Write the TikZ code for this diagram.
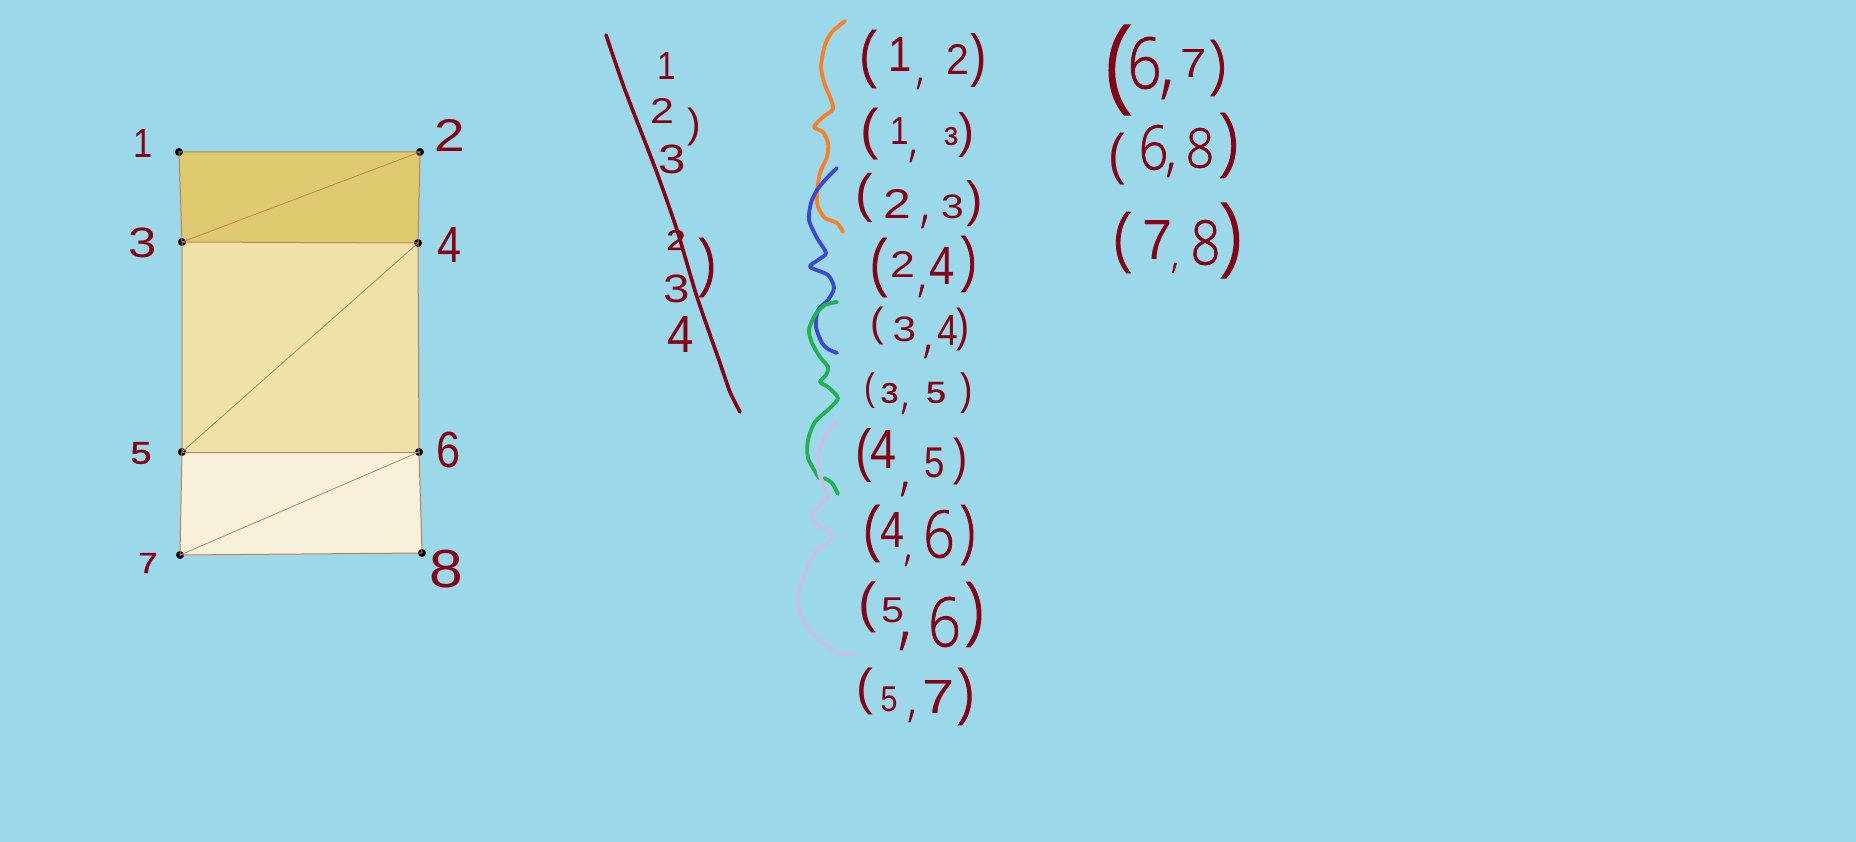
\documentclass[tikz,border=0pt]{standalone}
\usepackage{fontspec}
\setmainfont{Liberation Sans}
\newfontfamily\lightfam[UprightFont=* Light,FakeBold=1.2]{Open Sans}
\newfontfamily\smallfam[FakeBold=1.2]{Liberation Sans}
\definecolor{bgc}{HTML}{9AD8EA}
\definecolor{ink}{HTML}{880015}
\definecolor{edgec}{HTML}{C08058}
\definecolor{toprow}{HTML}{DFCB6F}
\definecolor{midrow}{HTML}{EEE2AA}
\definecolor{lowrow}{HTML}{F8F1DA}
\definecolor{orangec}{HTML}{FF7F27}
\definecolor{bluec}{HTML}{3F48CC}
\definecolor{greenc}{HTML}{22B14C}
\definecolor{lavc}{HTML}{C8BFE7}
\newdimen\glpen \newdimen\glox \newdimen\glby \newdimen\glk
\newbox\glbox
% pad, x1, x2, y1, y2, char  (font chosen in \glfont, width cap in \glcap)
\newcommand\glg[6]{%
  \setbox\glbox=\hbox{\glfont #6}%
  \pgfmathsetmacro\glys{(#5-#4)/(\the\ht\glbox+\the\dp\glbox)}%
  \pgfmathsetmacro\glwt{(#3-#2)*(1+2*#1)}%
  \pgfmathsetmacro\glxs{min(max(\glwt/\the\wd\glbox,.85*\glys),\glcap*\glys)}%
  \setbox\glbox=\hbox{\scalebox{\glxs}[\glys]{\box\glbox}}%
  \glk=\dimexpr (#2pt+#3pt)/2-\wd\glbox/2-\glox-\glpen\relax
  \kern\glk
  \advance\glpen by \dimexpr\glk+\wd\glbox\relax
  \raise\dimexpr\glby-#5pt+\dp\glbox\relax\box\glbox
}
\newcommand\dg[5]{%
  \pgfmathsetmacro\glh{#5-#4}%
  \pgfmathparse{\glh<24?1:(\glh<40?2:3)}%
  \ifcase\pgfmathresult\or\let\glfont\smallfam\or\let\glfont\rmfamily\or\let\glfont\lightfam\fi
  \def\glcap{1.2}%
  \glg{.1}{#2}{#3}{#4}{#5}{#1}}
\newcommand\pfont[2]{%
  \pgfmathsetmacro\glh{#2-#1}%
  \pgfmathparse{\glh<33?1:(\glh<55?2:3)}%
  \ifcase\pgfmathresult\or\let\glfont\smallfam\or\let\glfont\rmfamily\or\let\glfont\lightfam\fi
  \def\glcap{1}}
\newcommand\lp[4]{\pfont{#3}{#4}\glg{.33}{#1}{#2}{#3}{#4}{(}}
\newcommand\rp[4]{\pfont{#3}{#4}\glg{.33}{#1}{#2}{#3}{#4}{)}}
\newcommand\cm[3]{\let\glfont\lightfam\def\glcap{.9}\glg{1}{\the\numexpr#1-3\relax}{\the\numexpr#1+3\relax}{#2}{#3}{,}}
\newcommand\txt[4]{\node[hand] (#1) at (#2,#3) {\glpen=0pt\glox=#2pt\glby=#3pt #4};}
\tikzset{
  hand/.style={inner sep=0pt,outer sep=0pt,anchor=base west,text=ink,font=\fontsize{44}{44}\selectfont},
  cell/.style={draw=edgec,line width=1pt},
  diag/.style={draw=edgec,line width=.8pt},
  vertexdot/.style={circle,fill=black,inner sep=0pt,minimum size=8pt},
  wave/.style={line width=3.8pt,line cap=round,line join=round},
  inkline/.style={draw=ink,line width=3.6pt,line cap=round,line join=round}
}
\begin{document}
\begin{tikzpicture}[x=1pt,y=-1pt]
\fill[bgc] (0,0) rectangle (1856,842);
\useasboundingbox (0,0) rectangle (1856,842);
\coordinate (c1) at (179,152);
\coordinate (c2) at (420,152);
\coordinate (c3) at (182,242);
\coordinate (c4) at (418,243);
\coordinate (c5) at (182,452);
\coordinate (c6) at (419,452);
\coordinate (c7) at (180,555);
\coordinate (c8) at (422,553);
% cells
\fill[toprow] (c1) -- (c2) -- (c4) -- (c3) -- cycle;
\fill[midrow] (c3) -- (c4) -- (c6) -- (c5) -- cycle;
\fill[lowrow] (c5) -- (c6) -- (c8) -- (c7) -- cycle;
% vertices
\node[vertexdot] (v1) at (c1) {};
\node[vertexdot] (v2) at (c2) {};
\node[vertexdot] (v3) at (c3) {};
\node[vertexdot] (v4) at (c4) {};
\node[vertexdot] (v5) at (c5) {};
\node[vertexdot] (v6) at (c6) {};
\node[vertexdot] (v7) at (c7) {};
\node[vertexdot] (v8) at (c8) {};
% edges
\path[cell] (v1.center) -- (v2.center) -- (v4.center) -- (v6.center) -- (v8.center) -- (v7.center) -- (v5.center) -- (v3.center) -- cycle;
\path[cell] (v3.center) -- (v4.center);
\path[cell] (v5.center) -- (v6.center);
\path[diag] (v3.center) -- (v2.center);
\path[diag] (v5.center) -- (v4.center);
\path[diag] (v7.center) -- (v6.center);
% corner labels
\txt{l1}{135}{158}{\dg{1}{136}{150}{130}{158}}
\txt{l2}{435}{152}{\dg{2}{435}{465}{120}{152}}
\txt{l3}{127}{258}{\dg{3}{127}{158}{228}{258}}
\txt{l4}{440}{263}{\dg{4}{440}{459}{228}{263}}
\txt{l5}{132}{464}{\dg{5}{132}{150}{442}{464}}
\txt{l6}{439}{468}{\dg{6}{439}{458}{432}{468}}
\txt{l7}{138}{573}{\dg{7}{138}{158}{553}{573}}
\txt{l8}{432}{588}{\dg{8}{432}{460}{550}{588}}
% struck list
\draw[inkline] plot[smooth,tension=.4] coordinates {(606,35) (625,90) (657,173) (677,230) (697,297) (720,363) (730,392) (740,412)};
\txt{a1}{660}{80}{\dg{1}{660}{674}{53}{80}}
\txt{a2}{651}{124}{\dg{2}{651}{673}{99}{124}}
\txt{a3}{660}{174}{\dg{3}{660}{685}{145}{174}}
\txt{ap}{689}{146}{\rp{689}{700}{108}{146}}
\txt{b2}{666}{250}{\dg{2}{666}{686}{230}{250}}
\txt{b3}{665}{303}{\dg{3}{665}{688}{275}{303}}
\txt{b4}{670}{353}{\dg{4}{670}{692}{317}{353}}
\txt{bp}{697}{297}{\rp{697}{716}{238}{297}}
% colored waves
\draw[wave,orangec] plot[smooth,tension=.45] coordinates {(845,21) (832,32) (825,45) (821,67) (825,85) (830,97) (833,109) (823,117) (814,127) (823,132) (828,143) (827,157) (820,173) (817,193) (818,207) (825,218) (837,223) (843,232)};
\draw[wave,bluec] plot[smooth,tension=.45] coordinates {(837,168) (827,178) (817,190) (811,203) (809,220) (817,238) (826,253) (818,260) (810,267) (828,275) (834,288) (828,300) (818,310) (816,327) (822,343) (828,349) (837,353)};
\draw[wave,greenc] plot[smooth,tension=.45] coordinates {(837,302) (825,305) (815,315) (809,330) (812,343) (820,357) (828,367) (826,375) (820,382) (828,387) (838,398) (830,408) (815,422) (808,440) (808,458) (819,478)};
\draw[wave,greenc] plot[smooth,tension=.45] coordinates {(824,478) (832,483) (838,494)};
\draw[wave,lavc] plot[smooth,tension=.45] coordinates {(837,421) (825,437) (818,453) (819,473) (828,496) (820,505) (812,517) (818,525) (831,532) (829,542) (817,550) (807,567) (800,587) (798,607) (805,623) (817,638) (838,653) (855,653)};
% first column
\txt{p12}{863}{75}{\lp{863}{875}{30}{88}\dg{1}{893}{907}{38}{72}\cm{920}{78}{89}\dg{2}{948}{967}{45}{75}\rp{975}{982}{34}{88}}
\txt{p13}{863}{145}{\lp{863}{877}{108}{160}\dg{1}{893}{907}{118}{145}\cm{913}{150}{162}\dg{3}{945}{957}{127}{145}\rp{960}{973}{113}{158}}
\txt{p23}{858}{219}{\lp{858}{870}{173}{222}\dg{2}{882}{912}{190}{219}\cm{925}{215}{228}\dg{3}{942}{963}{195}{219}\rp{967}{983}{181}{227}}
\txt{p24}{873}{278}{\lp{873}{886}{238}{297}\dg{2}{888}{917}{252}{278}\cm{922}{285}{297}\dg{4}{935}{950}{248}{285}\rp{963}{973}{236}{292}}
\txt{p34}{873}{342}{\lp{873}{882}{307}{345}\dg{3}{892}{917}{317}{342}\cm{928}{345}{358}\dg{4}{940}{955}{315}{345}\rp{960}{967}{308}{351}}
\txt{p35}{867}{403}{\lp{867}{873}{372}{408}\dg{3}{882}{897}{383}{403}\cm{905}{403}{414}\dg{5}{927}{945}{382}{403}\rp{963}{970}{373}{414}}
\txt{p45}{859}{468}{\lp{859}{868}{428}{482}\dg{4}{875}{892}{430}{468}\cm{905}{482}{496}\dg{5}{927}{943}{448}{478}\rp{957}{965}{438}{485}}
\txt{p46}{867}{547}{\lp{867}{878}{505}{562}\dg{4}{883}{902}{512}{547}\cm{908}{555}{566}\dg{6}{930}{948}{510}{558}\rp{963}{972}{505}{565}}
\txt{p56}{859}{623}{\lp{859}{877}{582}{633}\dg{5}{883}{902}{598}{623}\cm{905}{632}{650}\dg{6}{932}{957}{597}{647}\rp{968}{980}{582}{647}}
\txt{p57}{859}{712}{\lp{859}{870}{668}{715}\dg{5}{883}{895}{687}{712}\cm{912}{710}{722}\dg{7}{923}{953}{680}{713}\rp{958}{972}{668}{725}}
% second column
\txt{p67}{1106}{89}{\lp{1106}{1132}{25}{115}\dg{6}{1134}{1155}{37}{89}\cm{1167}{80}{99}\dg{7}{1183}{1205}{50}{78}\rp{1207}{1228}{40}{96}}
\txt{p68}{1112}{170}{\lp{1112}{1122}{133}{185}\dg{6}{1142}{1165}{125}{170}\cm{1171}{163}{177}\dg{8}{1188}{1212}{128}{168}\rp{1222}{1235}{113}{178}}
\txt{p78}{1108}{260}{\lp{1108}{1138}{212}{273}\dg{7}{1145}{1170}{221}{260}\cm{1175}{263}{273}\dg{8}{1193}{1218}{220}{265}\rp{1223}{1238}{203}{278}}
\end{tikzpicture}
\end{document}
